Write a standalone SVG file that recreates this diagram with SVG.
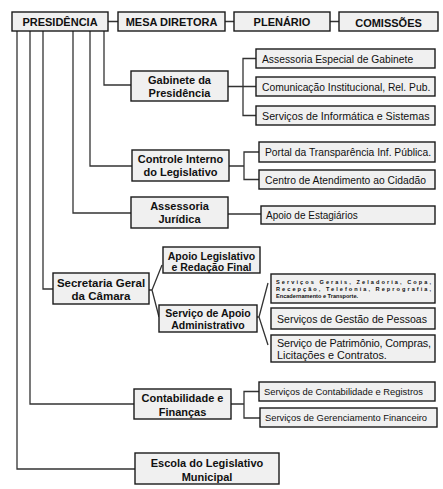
<svg xmlns="http://www.w3.org/2000/svg" width="443" height="489" viewBox="0 0 443 489">
<style>
.box{fill:#f0f0f0;stroke:#1a1a1a;stroke-width:1.4}
.t{font-family:"Liberation Sans",Arial,sans-serif;fill:#111}
.b{font-weight:bold;font-size:11px;text-anchor:middle}
.s{font-size:10.3px}
.g{font-size:5.6px;font-weight:bold}
.ln{fill:none;stroke:#333;stroke-width:1.3}
</style>
<rect width="443" height="489" fill="#fff"/>
<g id="connectors" class="ln">
<path d="M108 21.5H118M225 21.5H234M330 21.5H339"/>
<path d="M17 31V469H135"/>
<path d="M30 31V404H134"/>
<path d="M43 31V289H53"/>
<path d="M73 31V213H131"/>
<path d="M90 31V166H132"/>
<path d="M104 31V85H131"/>
<path d="M228 86.5H256M256 58.5H243V115.5H256"/>
<path d="M229 166H244M259 152H244V179.5H259"/>
<path d="M228 214H261"/>
<path d="M149 290H152M162 265L152 290L159 317"/>
<path d="M257 317H259M268 283L259 317L268 345"/>
<path d="M231 404H244M259 391.5H244V418H260"/>
</g>
<g id="presidencia"><rect class="box" x="12" y="12" width="96" height="19"/><text class="t b" x="60" y="25.5">PRESIDÊNCIA</text></g>
<g id="mesa"><rect class="box" x="118" y="12" width="107" height="19"/><text class="t b" x="171.5" y="25.5">MESA DIRETORA</text></g>
<g id="plenario"><rect class="box" x="234" y="12" width="96" height="19"/><text class="t b" x="282" y="25.5">PLENÁRIO</text></g>
<g id="comissoes"><rect class="box" x="339" y="12" width="99" height="19"/><text class="t b" x="388.5" y="26.5">COMISSÕES</text></g>
<g id="gabinete"><rect class="box" x="131" y="71" width="97" height="30"/><text class="t b" x="179.5" y="83.5">Gabinete da</text><text class="t b" x="179.5" y="96.5">Presidência</text></g>
<g id="assessoria-especial"><rect class="box" x="256" y="49" width="179" height="19"/><text class="t s" x="262" y="62.5">Assessoria Especial de Gabinete</text></g>
<g id="comunicacao"><rect class="box" x="256" y="77" width="179" height="19"/><text class="t s" x="262" y="90.5">Comunicação Institucional, Rel. Pub.</text></g>
<g id="informatica"><rect class="box" x="256" y="106" width="179" height="19"/><text class="t s" x="262" y="119.5" style="font-size:10.7px">Serviços de Informática e Sistemas</text></g>
<g id="controle"><rect class="box" x="132" y="150" width="97" height="31"/><text class="t b" x="180.5" y="163">Controle Interno</text><text class="t b" x="180.5" y="176">do Legislativo</text></g>
<g id="portal"><rect class="box" x="259" y="142" width="176" height="20"/><text class="t s" x="265" y="155.5">Portal da Transparência Inf. Pública.</text></g>
<g id="centro"><rect class="box" x="259" y="170" width="176" height="19"/><text class="t s" x="265" y="183.5">Centro de Atendimento ao Cidadão</text></g>
<g id="juridica"><rect class="box" x="131" y="197" width="97" height="31"/><text class="t b" x="179.5" y="210">Assessoria</text><text class="t b" x="179.5" y="223">Jurídica</text></g>
<g id="estagiarios"><rect class="box" x="261" y="206" width="174" height="18"/><text class="t" x="266" y="218.5" style="font-size:10px">Apoio de Estagiários</text></g>
<g id="secretaria"><rect class="box" x="53" y="273" width="96" height="31"/><text class="t b" x="101" y="287" style="font-size:11.5px">Secretaria  Geral</text><text class="t b" x="101" y="300" style="font-size:11.5px">da Câmara</text></g>
<g id="apoio-legislativo"><rect class="box" x="163" y="247" width="97" height="26"/><text class="t b" x="211.5" y="259.5" style="font-size:10.5px">Apoio Legislativo</text><text class="t b" x="211.5" y="270.5" style="font-size:10.5px">e Redação Final</text></g>
<g id="apoio-administrativo"><rect class="box" x="159" y="305" width="98" height="27"/><text class="t b" x="208" y="317" style="font-size:10.5px">Serviço de Apoio</text><text class="t b" x="208" y="328.5" style="font-size:10.5px">Administrativo</text></g>
<g id="servicos-gerais"><rect class="box" x="271" y="274" width="164" height="29"/><text class="t g" x="276" y="284" textLength="155" lengthAdjust="spacing">Serviços Gerais, Zeladoria, Copa,</text><text class="t g" x="276" y="291" textLength="155" lengthAdjust="spacing">Recepção, Telefonia, Reprografia,</text><text class="t g" x="276" y="297.5">Encadernamento e Transporte.</text></g>
<g id="gestao"><rect class="box" x="271" y="308" width="164" height="21"/><text class="t" x="277" y="322.5" style="font-size:11px" textLength="150" lengthAdjust="spacingAndGlyphs">Serviços de Gestão de Pessoas</text></g>
<g id="patrimonio"><rect class="box" x="271" y="335" width="164" height="27"/><text class="t" x="277" y="347" style="font-size:10.8px" textLength="154" lengthAdjust="spacing">Serviço de Patrimônio, Compras,</text><text class="t" x="277" y="359" style="font-size:10.8px">Licitações e Contratos.</text></g>
<g id="contabilidade"><rect class="box" x="134" y="389" width="97" height="30"/><text class="t b" x="182.5" y="402">Contabilidade e</text><text class="t b" x="182.5" y="415.5">Finanças</text></g>
<g id="registros"><rect class="box" x="259" y="382" width="176" height="19"/><text class="t" x="264" y="395" style="font-size:9.4px">Serviços de Contabilidade e Registros</text></g>
<g id="financeiro"><rect class="box" x="260" y="408" width="177" height="19"/><text class="t" x="265" y="421" style="font-size:9.4px">Serviços de Gerenciamento Financeiro</text></g>
<g id="escola"><rect class="box" x="135" y="453" width="144" height="31"/><text class="t b" x="207" y="467">Escola do Legislativo</text><text class="t b" x="207" y="480.5">Municipal</text></g>
</svg>
